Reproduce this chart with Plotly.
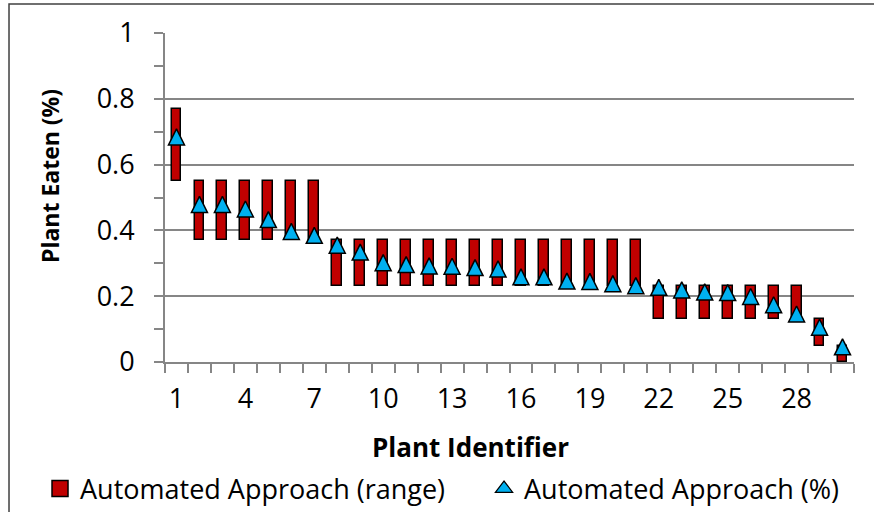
import plotly.graph_objects as go

# Plant identifiers 1..30
plant_ids = [1, 2, 3, 4, 5, 6, 7, 8, 9, 10, 11, 12, 13, 14, 15,
             16, 17, 18, 19, 20, 21, 22, 23, 24, 25, 26, 27, 28, 29, 30]

# Range of the automated estimate (lower / upper bound)
range_low = [0.55, 0.37, 0.37, 0.37, 0.37, 0.37, 0.37, 0.23, 0.23, 0.23,
             0.23, 0.23, 0.23, 0.23, 0.23, 0.23, 0.23, 0.23, 0.23, 0.23,
             0.23, 0.13, 0.13, 0.13, 0.13, 0.13, 0.13, 0.13, 0.05, 0.00]
range_high = [0.77, 0.55, 0.55, 0.55, 0.55, 0.55, 0.55, 0.37, 0.37, 0.37,
              0.37, 0.37, 0.37, 0.37, 0.37, 0.37, 0.37, 0.37, 0.37, 0.37,
              0.37, 0.23, 0.23, 0.23, 0.23, 0.23, 0.23, 0.23, 0.13, 0.05]

# Automated point estimate
pct_eaten = [0.684, 0.479, 0.479, 0.465, 0.433, 0.397, 0.385, 0.355, 0.334, 0.302,
             0.296, 0.292, 0.291, 0.287, 0.283, 0.259, 0.259, 0.246, 0.245, 0.238,
             0.232, 0.227, 0.219, 0.213, 0.211, 0.199, 0.174, 0.146, 0.106, 0.046]

x_tick_vals = [1, 4, 7, 10, 13, 16, 19, 22, 25, 28]
x_tick_text = ["1", "4", "7", "10", "13", "16", "19", "22", "25", "28"]
y_tick_vals = [0, 0.2, 0.4, 0.6, 0.8, 1.0]
y_tick_text = ["0", "0.2", "0.4", "0.6", "0.8", "1"]

FONT = "Open Sans"
AXIS_GREY = "#868686"
RED = "#C00000"
BLUE = "#00B0F0"
TICK_SIZE = 27

heights = [h - l for h, l in zip(range_high, range_low)]

fig = go.Figure()

fig.add_trace(go.Bar(
    x=plant_ids, y=heights, base=range_low, width=0.43,
    marker=dict(color=RED, line=dict(color="black", width=1.5)),
    showlegend=False, name="Automated Approach (range)",
))

# legend entry for the range bars
fig.add_trace(go.Scatter(
    x=[None], y=[None], mode="markers", name="Automated Approach (range)",
    legendwidth=399,
    marker=dict(symbol="square", size=16, color=RED, line=dict(color="black", width=1.5)),
))

# upward triangles centred on each value
fig.add_trace(go.Scatter(
    x=plant_ids, y=pct_eaten, mode="markers", name="Automated Approach (%)",
    marker=dict(symbol="arrow-down", angle=180, standoff=8, size=16, color=BLUE,
                line=dict(color="black", width=1.5)),
    showlegend=False,
))

# legend entry for the point estimate
fig.add_trace(go.Scatter(
    x=[None], y=[None], mode="markers", name="Automated Approach (%)",
    legendwidth=330,
    marker=dict(symbol="triangle-up", size=15, color=BLUE, line=dict(color="black", width=1.2)),
))

fig.update_layout(
    width=874, height=512,
    margin=dict(l=165, r=20, t=33, b=150, autoexpand=False),
    paper_bgcolor="white", plot_bgcolor="white",
    font=dict(family=FONT, size=TICK_SIZE, color="black"),
    bargap=0,
    showlegend=True,
    legend=dict(
        orientation="h", x=-0.1814, xanchor="left", y=-0.386, yanchor="middle",
        font=dict(family=FONT, size=TICK_SIZE, color="black"),
        itemsizing="trace", entrywidthmode="pixels",
        bgcolor="rgba(0,0,0,0)",
    ),
    xaxis=dict(
        range=[0.5, 30.5], tickmode="array", tickvals=x_tick_vals, ticktext=x_tick_text,
        ticks="", showgrid=False, zeroline=False,
        showline=True, linecolor=AXIS_GREY, linewidth=2,
        tickfont=dict(family=FONT, size=TICK_SIZE),
        ticklabelstandoff=12,
        minor=dict(tickmode="array", tickvals=[i + 0.5 for i in range(0, 31)],
                   ticks="outside", ticklen=9, tickwidth=2, tickcolor=AXIS_GREY, showgrid=False),
    ),
    yaxis=dict(
        range=[0, 1], tickmode="array", tickvals=y_tick_vals, ticktext=y_tick_text,
        ticks="outside", ticklen=9, tickwidth=2, tickcolor=AXIS_GREY,
        showgrid=True, gridcolor=AXIS_GREY, gridwidth=1.5, zeroline=False,
        showline=True, linecolor=AXIS_GREY, linewidth=2,
        tickfont=dict(family=FONT, size=TICK_SIZE),
        ticklabelstandoff=14,
        minor=dict(tickmode="array", tickvals=[0.1, 0.3, 0.5, 0.7, 0.9],
                   ticks="outside", ticklen=9, tickwidth=2, tickcolor=AXIS_GREY, showgrid=False),
    ),
    annotations=[
        dict(text="<b>Plant Identifier</b>", xref="paper", yref="paper",
             x=0.444, y=-0.258, xanchor="center", yanchor="middle", showarrow=False,
             font=dict(family=FONT, size=26)),
        dict(text="<b>Plant Eaten (%)</b>", xref="paper", yref="paper", textangle=-90,
             x=-0.167, y=0.565, xanchor="center", yanchor="middle", showarrow=False,
             font=dict(family=FONT, size=23)),
    ],
    shapes=[
        dict(type="path", xref="paper", yref="paper",
             path="M -0.2264,-0.47 L -0.2264,1.088 L 1.04,1.088",
             line=dict(color="#404040", width=1.5)),
    ],
)

fig.write_html("out.html")
